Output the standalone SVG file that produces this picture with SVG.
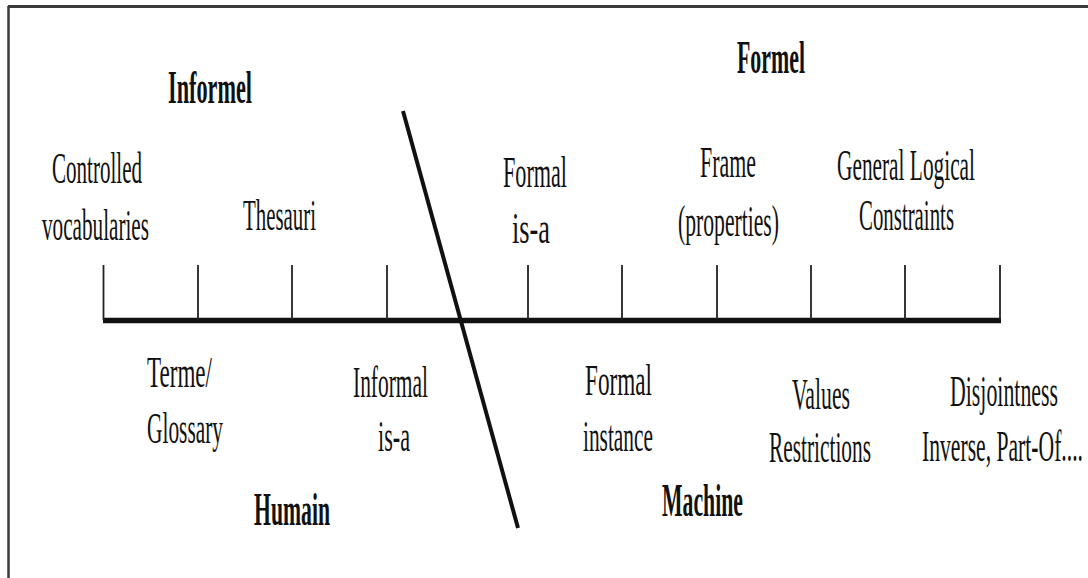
<svg xmlns="http://www.w3.org/2000/svg" width="1088" height="578" viewBox="0 0 1088 578">
<style>
  text { font-family: "Liberation Serif", "Times New Roman", serif; font-size: 44px; fill: #111; }
  .b { font-weight: bold; font-size: 46px; }
  .tick { stroke: #222; stroke-width: 1.8; }
  .frame { stroke: #3a3a3a; fill: none; }
</style>
<rect width="1088" height="578" fill="#fff"/>
<g id="frame">
  <line class="frame" x1="8" y1="6.5" x2="1088" y2="6.5" stroke-width="3"/>
  <line class="frame" x1="8.5" y1="6" x2="8.5" y2="578" stroke-width="2.5"/>
</g>
<g id="connectors">
  <line x1="103" y1="320.5" x2="1001" y2="320.5" stroke="#111" stroke-width="5.5"/>
  <line class="tick" x1="103.5" y1="265" x2="103.5" y2="320"/>
  <line class="tick" x1="198" y1="265" x2="198" y2="320"/>
  <line class="tick" x1="292" y1="265" x2="292" y2="320"/>
  <line class="tick" x1="387" y1="265" x2="387" y2="320"/>
  <line class="tick" x1="528" y1="265" x2="528" y2="320"/>
  <line class="tick" x1="622" y1="265" x2="622" y2="320"/>
  <line class="tick" x1="717" y1="265" x2="717" y2="320"/>
  <line class="tick" x1="811" y1="265" x2="811" y2="320"/>
  <line class="tick" x1="905" y1="265" x2="905" y2="320"/>
  <line class="tick" x1="1000" y1="265" x2="1000" y2="320"/>
  <line x1="403" y1="111" x2="518" y2="528" stroke="#111" stroke-width="4"/>
</g>
<g id="informel"><text class="b" x="168" y="103" textLength="84" lengthAdjust="spacingAndGlyphs">Informel</text></g>
<g id="formel"><text class="b" x="737" y="73" textLength="68" lengthAdjust="spacingAndGlyphs">Formel</text></g>
<g id="controlled-vocabularies">
  <text x="52" y="183" textLength="90" lengthAdjust="spacingAndGlyphs">Controlled</text>
  <text x="42" y="240" textLength="107" lengthAdjust="spacingAndGlyphs">vocabularies</text>
</g>
<g id="thesauri"><text x="243" y="230" textLength="73" lengthAdjust="spacingAndGlyphs">Thesauri</text></g>
<g id="formal-is-a">
  <text x="503" y="187" textLength="64" lengthAdjust="spacingAndGlyphs">Formal</text>
  <text x="512" y="243" textLength="38" lengthAdjust="spacingAndGlyphs">is-a</text>
</g>
<g id="frame-properties">
  <text x="700" y="177" textLength="56" lengthAdjust="spacingAndGlyphs">Frame</text>
  <text x="678" y="236" textLength="101" lengthAdjust="spacingAndGlyphs">(properties)</text>
</g>
<g id="general-logical-constraints">
  <text x="837" y="180" textLength="138" lengthAdjust="spacingAndGlyphs">General Logical</text>
  <text x="859" y="230" textLength="95" lengthAdjust="spacingAndGlyphs">Constraints</text>
</g>
<g id="terme-glossary">
  <text x="147" y="387" textLength="65" lengthAdjust="spacingAndGlyphs">Terme/</text>
  <text x="147" y="443" textLength="76" lengthAdjust="spacingAndGlyphs">Glossary</text>
</g>
<g id="informal-is-a">
  <text x="353" y="397" textLength="75" lengthAdjust="spacingAndGlyphs">Informal</text>
  <text x="378" y="451" textLength="32" lengthAdjust="spacingAndGlyphs">is-a</text>
</g>
<g id="humain"><text class="b" x="254" y="525" textLength="76" lengthAdjust="spacingAndGlyphs">Humain</text></g>
<g id="formal-instance">
  <text x="585" y="395" textLength="67" lengthAdjust="spacingAndGlyphs">Formal</text>
  <text x="583" y="451" textLength="70" lengthAdjust="spacingAndGlyphs">instance</text>
</g>
<g id="machine"><text class="b" x="662" y="516" textLength="81" lengthAdjust="spacingAndGlyphs">Machine</text></g>
<g id="values-restrictions">
  <text x="792" y="409" textLength="58" lengthAdjust="spacingAndGlyphs">Values</text>
  <text x="769" y="462" textLength="102" lengthAdjust="spacingAndGlyphs">Restrictions</text>
</g>
<g id="disjointness">
  <text x="950" y="406" textLength="108" lengthAdjust="spacingAndGlyphs">Disjointness</text>
  <text x="922" y="461" textLength="161" lengthAdjust="spacingAndGlyphs">Inverse, Part-Of....</text>
</g>
</svg>
